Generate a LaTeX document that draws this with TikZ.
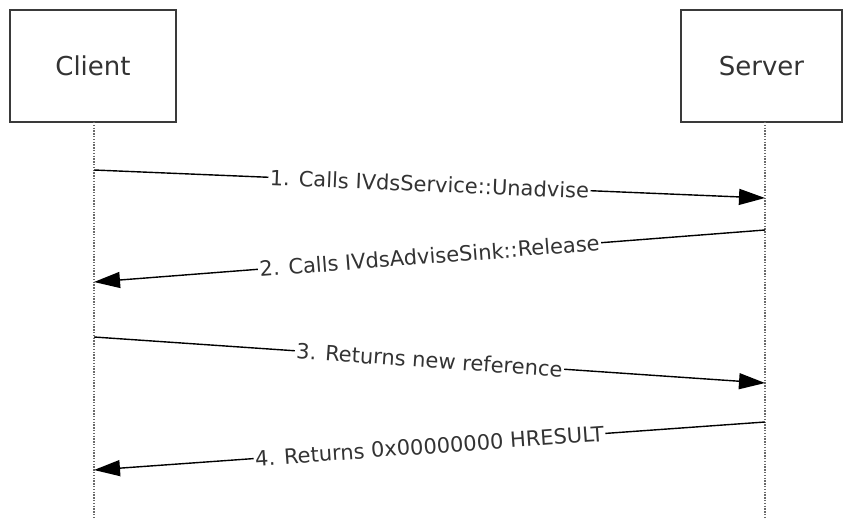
\documentclass[tikz,border=0pt]{standalone}
\usepackage{fontspec}
\setmainfont{DejaVu Sans}
\usetikzlibrary{arrows.meta}
\definecolor{txt}{HTML}{333333}
\definecolor{boxline}{HTML}{3A3A3A}
\definecolor{lifecol}{HTML}{6A6A6A}
\tikzset{
  actor/.style={draw=boxline, line width=1.8pt, fill=white, minimum width=166pt, minimum height=112pt, inner sep=0pt, text=txt, font=\fontsize{26}{30}\selectfont},
  lifeline/.style={draw=lifecol, line width=1.8pt, dash pattern=on 1.4pt off 1.4pt},
  msg/.style={draw=black, line width=1.4pt, -{Triangle[length=26pt,width=16pt]}},
  msglabel/.style={fill=white, inner sep=1.5pt, text=txt, font=\fontsize{21}{25}\selectfont, sloped, pos=0.5}
}
\begin{document}
\begin{tikzpicture}[x=1pt,y=1pt]
\useasboundingbox (0,0) rectangle (843,-519);
\node[actor] (client) at (93,-66) {Client};
\node[actor, minimum width=161pt] (server) at (761.5,-66) {Server};
\coordinate (ctop) at (94,-122);
\coordinate (cbot) at (94,-519);
\coordinate (stop) at (765,-122);
\coordinate (sbot) at (765,-519);
\draw[lifeline] (ctop) -- (cbot);
\draw[lifeline] (stop) -- (sbot);
\coordinate (m1s) at (94,-170);
\coordinate (m1e) at (765,-198);
\coordinate (m2s) at (765,-230);
\coordinate (m2e) at (94,-282);
\coordinate (m3s) at (94,-337);
\coordinate (m3e) at (765,-383);
\coordinate (m4s) at (765,-422);
\coordinate (m4e) at (94,-470);
\draw[msg] (m1s) -- node[msglabel] (l1) {1. Calls IVdsService::Unadvise} (m1e);
\draw[msg] (m2s) -- node[msglabel] (l2) {2. Calls IVdsAdviseSink::Release} (m2e);
\draw[msg] (m3s) -- node[msglabel] (l3) {3. Returns new reference} (m3e);
\draw[msg] (m4s) -- node[msglabel] (l4) {4. Returns 0x00000000 HRESULT} (m4e);
\end{tikzpicture}
\end{document}
